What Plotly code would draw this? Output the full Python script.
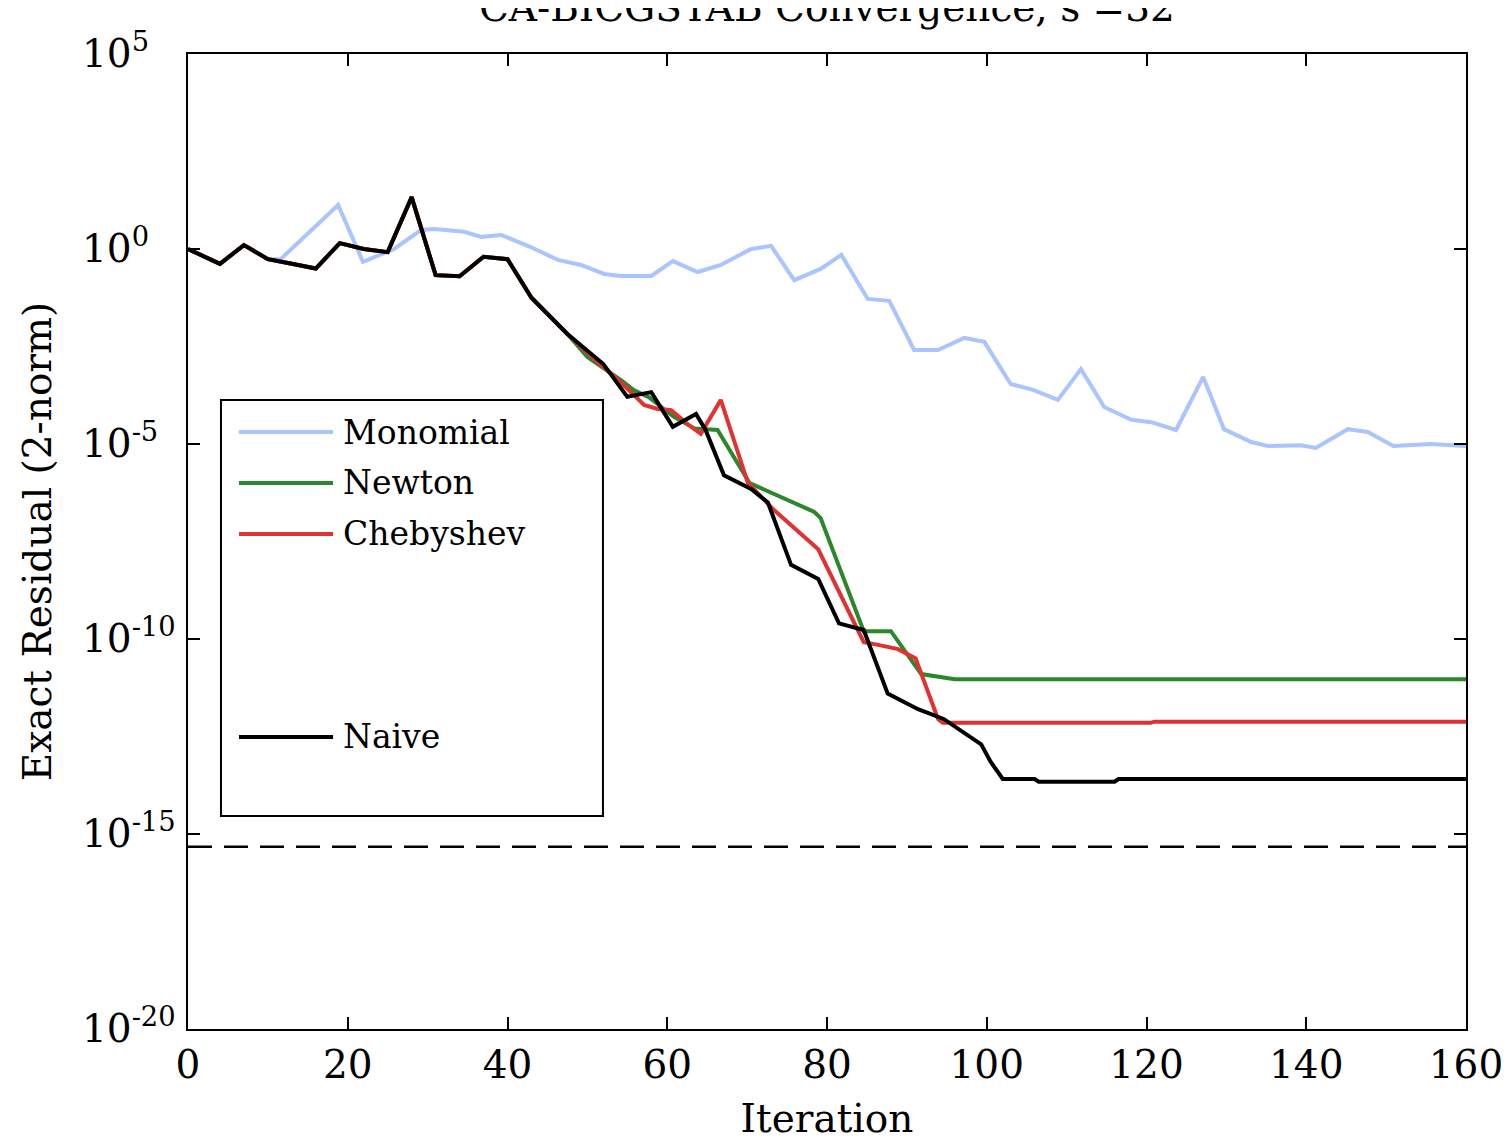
import plotly.graph_objects as go

# ---------------- data ----------------
series_names = ["Monomial", "Newton", "Chebyshev", "Naive"]
series_colors = ["#aac4ff", "#2a882a", "#e03232", "#000000"]

# iteration positions and log10(residual) values
monomial_x = [0, 4, 7, 10, 11.6, 18.8, 21.9, 25.8, 29.2, 30.8, 34.6, 36.7, 39.2, 42.9, 46.3,
              49.2, 52.1, 54.2, 58, 60.7, 63.8, 66.7, 70.5, 73, 75.9, 79.2, 81.8, 85.1, 87.8,
              90.9, 93.9, 97.2, 99.7, 103, 105.9, 108.9, 111.8, 114.7, 118.1, 120.6, 123.7,
              127.1, 129.7, 133.1, 135.2, 139.3, 141.2, 145.2, 147.7, 150.9, 155.6, 160]
monomial_exp = [0, -0.38, 0.1, -0.26, -0.26, 1.13, -0.33, 0, 0.49, 0.51, 0.44, 0.31, 0.36, 0.05, -0.28,
                -0.41, -0.64, -0.69, -0.69, -0.31, -0.59, -0.41, 0, 0.08, -0.8, -0.51, -0.15, -1.28, -1.33,
                -2.59, -2.59, -2.28, -2.38, -3.46, -3.62, -3.87, -3.08, -4.05, -4.38, -4.44, -4.64,
                -3.28, -4.62, -4.95, -5.05, -5.03, -5.1, -4.62, -4.69, -5.05, -5.0, -5.05]

newton_x = [0, 4, 7, 10, 13, 16, 19, 22, 25, 28, 31, 34, 37, 40, 43, 47.5, 50, 54.2, 55.8, 57.7,
            60.8, 63.4, 66.3, 70.3, 78.4, 79.2, 84.6, 88, 91.8, 95.5, 96, 160]
newton_exp = [0, -0.38, 0.1, -0.26, -0.38, -0.5, 0.15, 0, -0.08, 1.33, -0.67, -0.7, -0.2, -0.26, -1.25,
              -2.18, -2.77, -3.36, -3.62, -3.8, -4.3, -4.6, -4.64, -6.0, -6.74, -6.9, -9.8, -9.8,
              -10.9, -11.0, -11.03, -11.03]

chebyshev_x = [0, 4, 7, 10, 13, 16, 19, 22, 25, 28, 31, 34, 37, 40, 43, 47.5, 50.5, 54.6, 57.1, 58.8,
               60.5, 62.6, 64.2, 66.7, 70.1, 73.4, 78.9, 84.6, 86.4, 88.9, 91.1, 93.9, 94.5, 120.5,
               121, 160]
chebyshev_exp = [0, -0.38, 0.1, -0.26, -0.38, -0.5, 0.15, 0, -0.08, 1.33, -0.67, -0.7, -0.2, -0.26, -1.25,
                 -2.18, -2.75, -3.5, -4.0, -4.1, -4.13, -4.5, -4.74, -3.87, -6.0, -6.7, -7.7, -10.08,
                 -10.15, -10.26, -10.5, -12.05, -12.15, -12.15, -12.12, -12.12]

naive_x = [0, 4, 7, 10, 13, 16, 19, 22, 25, 28, 31, 34, 37, 40, 43, 47.5, 52, 55, 58, 60.7, 63.6,
           64.8, 67.1, 70.5, 72.6, 75.5, 78.9, 81.5, 84.6, 87.6, 91.4, 94.6, 99.3, 100.5, 102,
           106, 106.5, 116, 116.5, 160]
naive_exp = [0, -0.38, 0.1, -0.26, -0.38, -0.5, 0.15, 0, -0.08, 1.33, -0.67, -0.7, -0.2, -0.26, -1.25,
             -2.18, -2.95, -3.79, -3.67, -4.56, -4.23, -4.64, -5.8, -6.15, -6.5, -8.1, -8.46, -9.6,
             -9.77, -11.4, -11.8, -12.05, -12.7, -13.15, -13.59, -13.59, -13.66, -13.66, -13.59, -13.59]

eps_x = [0, 160]
eps_exp = [-15.33, -15.33]

x_ticks = [0, 20, 40, 60, 80, 100, 120, 140, 160]
y_tick_exps = [5, 0, -5, -10, -15, -20]
y_tick_text = ["10<sup>%d</sup>" % e for e in y_tick_exps]

title_text = "CA-BICGSTAB Convergence, s =32"
x_title = "Iteration"
y_title = "Exact Residual (2-norm)"

# ---------------- figure ----------------
FONT = "DejaVu Serif"
AX_SIZE = 39
LEG_SIZE = 33
series_x = [monomial_x, newton_x, chebyshev_x, naive_x]
series_exp = [monomial_exp, newton_exp, chebyshev_exp, naive_exp]
series_width = [4, 4, 4, 4]

fig = go.Figure()
for name, xs, es, col, w in zip(series_names, series_x, series_exp, series_colors, series_width):
    fig.add_trace(go.Scatter(x=xs, y=[10 ** e for e in es], mode="lines", name=name,
                             line=dict(color=col, width=w), showlegend=False))

fig.add_trace(go.Scatter(x=eps_x, y=[10 ** e for e in eps_exp], mode="lines",
                         line=dict(color="black", width=2.5, dash="24px,12px"), showlegend=False))

# manual legend (box + samples + labels), in paper coordinates
leg_box = dict(x0=0.0258, x1=0.3247, y0=0.2185, y1=0.6451)
leg_rows = [0.6123, 0.5600, 0.5077, 0.2995]
shapes = [dict(type="rect", xref="paper", yref="paper", line=dict(color="black", width=2),
               fillcolor="white", layer="below", **leg_box)]
annotations = []
for name, col, yy in zip(series_names, series_colors, leg_rows):
    shapes.append(dict(type="line", xref="paper", yref="paper", x0=0.0399, x1=0.1135, y0=yy, y1=yy,
                       line=dict(color=col, width=4)))
    annotations.append(dict(text=name, xref="paper", yref="paper", x=0.1197, y=yy, xanchor="left",
                            yanchor="middle", showarrow=False,
                            font=dict(family=FONT, size=LEG_SIZE, color="black")))

# MATLAB-style left-aligned y tick labels, positioned by the y axis scale
for e, txt in zip(y_tick_exps, y_tick_text):
    annotations.append(dict(text=txt, xref="paper", yref="y", x=-0.0845, y=e, xanchor="left",
                            yanchor="middle", yshift=3, showarrow=False,
                            font=dict(family=FONT, size=AX_SIZE, color="black")))

annotations.append(dict(text=title_text, xref="paper", yref="paper", x=0.5, y=1.048, xanchor="center",
                        yanchor="middle", showarrow=False, font=dict(family=FONT, size=AX_SIZE, color="black")))

fig.update_layout(
    width=1500, height=1133,
    margin=dict(l=180, r=42, t=46, b=112),
    plot_bgcolor="white", paper_bgcolor="white",
    shapes=shapes, annotations=annotations,
    showlegend=False,
)
fig.update_xaxes(range=[0, 160], tickvals=x_ticks, ticks="inside", ticklen=12, tickwidth=2,
                 tickcolor="black", showline=True, linewidth=2, linecolor="black", mirror="ticks",
                 showgrid=False, zeroline=False, ticklabelstandoff=0, automargin=False,
                 tickfont=dict(family=FONT, size=AX_SIZE, color="black"),
                 title=dict(text=x_title, font=dict(family=FONT, size=AX_SIZE, color="black"), standoff=20))
fig.update_yaxes(type="log", range=[-20, 5], tickvals=[10 ** e for e in y_tick_exps],
                 showticklabels=False, automargin=False,
                 ticks="inside", ticklen=12, tickwidth=2, tickcolor="black", showline=True, linewidth=2,
                 linecolor="black", mirror="ticks", showgrid=False, zeroline=False,
                 title=dict(text=y_title, font=dict(family=FONT, size=AX_SIZE, color="black"), standoff=122))

fig.write_html("out.html")
